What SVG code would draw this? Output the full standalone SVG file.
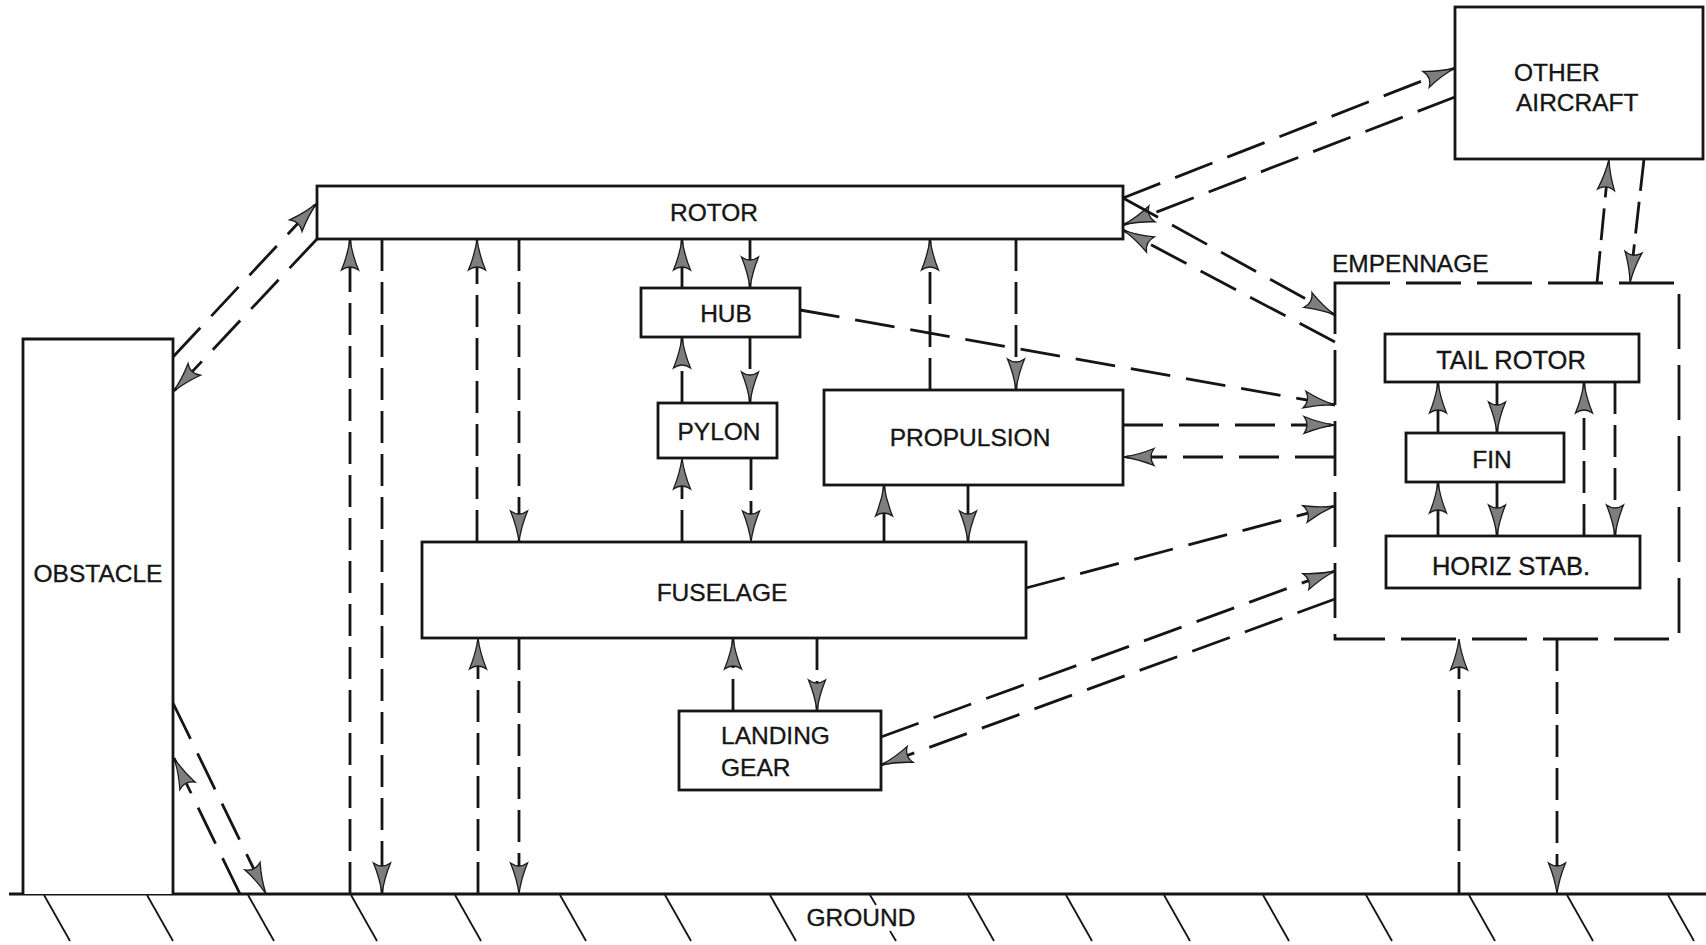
<svg xmlns="http://www.w3.org/2000/svg" width="1706" height="945" viewBox="0 0 1706 945">
<style>
.box{fill:#fff;stroke:#151515;stroke-width:2.8}
.emp{fill:none;stroke:#151515;stroke-width:2.8;stroke-dasharray:55 16}
.lbl{font-family:"Liberation Sans",Arial,Helvetica,sans-serif;font-size:24.5px;fill:#151515;stroke:#151515;stroke-width:0.35}
.v{fill:none;stroke:#151515;stroke-width:2.8;stroke-dasharray:32 11}
.d{fill:none;stroke:#151515;stroke-width:2.8;stroke-dasharray:40 16}
.s{fill:none;stroke:#151515;stroke-width:2.8}
.ar{marker-end:url(#ah)}
</style>
<defs>
<marker id="ah" markerUnits="userSpaceOnUse" markerWidth="36" markerHeight="22" refX="33" refY="11" orient="auto" overflow="visible">
<path d="M33,11 Q18,9 2,2.5 Q8,11 2,19.5 Q18,13 33,11 Z" fill="#7e7e7e" stroke="#1a1a1a" stroke-width="1.3"/>
</marker>
</defs>
<rect width="1706" height="945" fill="#fff"/>

<g id="ground">
<line class="s" x1="9" y1="894" x2="1706" y2="894"/>
<g class="s" style="stroke-width:1.8">
<line x1="44" y1="895" x2="70" y2="941"/>
<line x1="147" y1="895" x2="173" y2="941"/>
<line x1="248" y1="895" x2="274" y2="941"/>
<line x1="351" y1="895" x2="377" y2="941"/>
<line x1="455" y1="895" x2="481" y2="941"/>
<line x1="560" y1="895" x2="586" y2="941"/>
<line x1="665" y1="895" x2="691" y2="941"/>
<line x1="770" y1="895" x2="796" y2="941"/>
<line x1="870" y1="895" x2="876" y2="905"/>
<line x1="890" y1="931" x2="896" y2="941"/>
<line x1="968" y1="895" x2="994" y2="941"/>
<line x1="1066" y1="895" x2="1092" y2="941"/>
<line x1="1164" y1="895" x2="1190" y2="941"/>
<line x1="1263" y1="895" x2="1289" y2="941"/>
<line x1="1366" y1="895" x2="1392" y2="941"/>
<line x1="1469" y1="895" x2="1495" y2="941"/>
<line x1="1567" y1="895" x2="1593" y2="941"/>
<line x1="1668" y1="895" x2="1694" y2="941"/>
</g>
<text class="lbl" x="861" y="926" text-anchor="middle">GROUND</text>
</g>

<g id="obstacle">
<path class="box" d="M23,894 V339 H173 V894"/>
<text class="lbl" x="98" y="582" text-anchor="middle">OBSTACLE</text>
</g>

<g id="rotor">
<rect class="box" x="317" y="186" width="806" height="53"/>
<text class="lbl" x="714" y="221" text-anchor="middle">ROTOR</text>
</g>

<g id="hub">
<rect class="box" x="641" y="288" width="159" height="49"/>
<text class="lbl" x="726" y="322" text-anchor="middle">HUB</text>
</g>

<g id="pylon">
<rect class="box" x="658" y="403" width="119" height="55"/>
<text class="lbl" x="719" y="440" text-anchor="middle">PYLON</text>
</g>

<g id="propulsion">
<rect class="box" x="824" y="390" width="299" height="95"/>
<text class="lbl" x="970" y="446" text-anchor="middle">PROPULSION</text>
</g>

<g id="fuselage">
<rect class="box" x="422" y="542" width="604" height="96"/>
<text class="lbl" x="722" y="601" text-anchor="middle">FUSELAGE</text>
</g>

<g id="landing-gear">
<rect class="box" x="679" y="711" width="202" height="79"/>
<text class="lbl" x="721" y="744">LANDING</text>
<text class="lbl" x="721" y="776">GEAR</text>
</g>

<g id="other-aircraft">
<rect class="box" x="1455" y="7" width="248" height="152"/>
<text class="lbl" x="1514" y="81">OTHER</text>
<text class="lbl" x="1516" y="111">AIRCRAFT</text>
</g>

<g id="empennage">
<rect class="emp" x="1335" y="283" width="344" height="356"/>
<text class="lbl" x="1332" y="272">EMPENNAGE</text>
</g>

<g id="tail-rotor">
<rect class="box" x="1385" y="334" width="254" height="48"/>
<text class="lbl" x="1511" y="369" text-anchor="middle" style="font-size:25.5px">TAIL ROTOR</text>
</g>

<g id="fin">
<rect class="box" x="1406" y="433" width="158" height="49"/>
<text class="lbl" x="1492" y="468" text-anchor="middle">FIN</text>
</g>

<g id="horiz-stab">
<rect class="box" x="1386" y="536" width="254" height="52"/>
<text class="lbl" x="1511" y="575" text-anchor="middle" style="font-size:25.5px">HORIZ STAB.</text>
</g>

<g id="connectors">
<path class="v ar" d="M350,894 V239"/>
<path class="v ar" d="M382,239 V894"/>
<path class="v ar" d="M477,542 V239"/>
<path class="v ar" d="M519,239 V542"/>
<path class="v ar" d="M478,894 V638"/>
<path class="v ar" d="M519,638 V894"/>
<path class="v ar" d="M682,288 V239"/>
<path class="v ar" d="M750,239 V288"/>
<path class="v ar" d="M682,403 V337"/>
<path class="v ar" d="M750,337 V403"/>
<path class="v ar" d="M682,542 V458"/>
<path class="v ar" d="M751,458 V542"/>
<path class="v ar" d="M930,390 V239"/>
<path class="v ar" d="M1016,239 V390"/>
<path class="v ar" d="M884,542 V485"/>
<path class="v ar" d="M968,485 V542"/>
<path class="v ar" d="M733,711 V638"/>
<path class="v ar" d="M817,638 V711"/>
<path class="v ar" d="M1459,894 V639"/>
<path class="v ar" d="M1557,639 V894"/>
<path class="v ar" d="M1438,433 V382"/>
<path class="v ar" d="M1497,382 V433"/>
<path class="v ar" d="M1438,536 V482"/>
<path class="v ar" d="M1497,482 V536"/>
<path class="v ar" d="M1584,536 V382"/>
<path class="v ar" d="M1615,382 V536"/>
<path class="v ar" d="M1597,283 L1609,159"/>
<path class="v ar" d="M1644,159 L1630,283"/>
<path class="d ar" d="M173,357 L317,203"/>
<path class="d ar" d="M317,239 L173,392"/>
<path class="d ar" d="M1123,198 L1455,68"/>
<path class="d ar" d="M1455,97 L1123,225"/>
<path class="d ar" d="M1123,198 L1335,315"/>
<path class="d ar" d="M1335,342 L1123,230"/>
<path class="d ar" d="M800,310 L1335,405"/>
<path class="d ar" d="M1123,425 H1335"/>
<path class="d ar" d="M1335,457 H1123"/>
<path class="d ar" d="M1026,588 L1335,506"/>
<path class="d ar" d="M881,737 L1335,571"/>
<path class="d ar" d="M1335,599 L881,765"/>
<path class="d ar" d="M173,703 L266,894"/>
<path class="d ar" d="M240,894 L174,758"/>
</g>
</svg>
